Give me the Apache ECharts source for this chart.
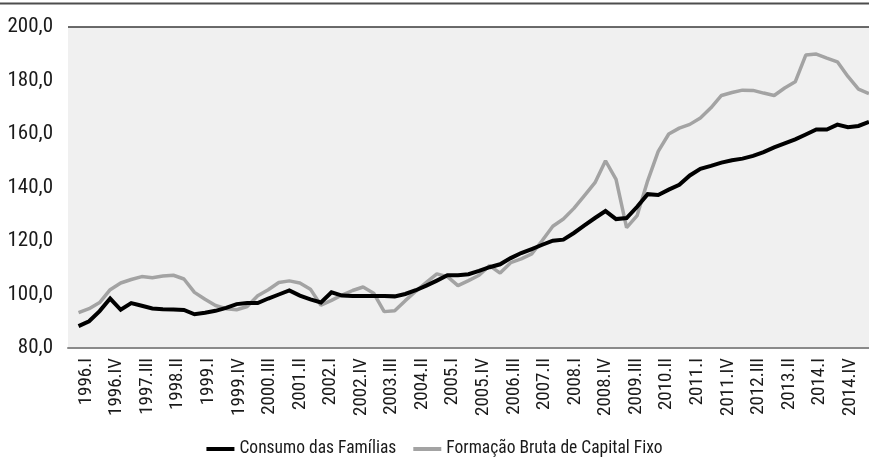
<!DOCTYPE html>
<html>
<head>
<meta charset="utf-8">
<script src="https://cdn.jsdelivr.net/npm/echarts@6/dist/echarts.min.js"></script>
<style>
html,body{margin:0;padding:0;background:#fff;}
#chart{width:869px;height:461px;}
</style>
</head>
<body>
<div id="chart"></div>
<script>
const categories = [
 "1996.I","1996.II","1996.III","1996.IV",
 "1997.I","1997.II","1997.III","1997.IV",
 "1998.I","1998.II","1998.III","1998.IV",
 "1999.I","1999.II","1999.III","1999.IV",
 "2000.I","2000.II","2000.III","2000.IV",
 "2001.I","2001.II","2001.III","2001.IV",
 "2002.I","2002.II","2002.III","2002.IV",
 "2003.I","2003.II","2003.III","2003.IV",
 "2004.I","2004.II","2004.III","2004.IV",
 "2005.I","2005.II","2005.III","2005.IV",
 "2006.I","2006.II","2006.III","2006.IV",
 "2007.I","2007.II","2007.III","2007.IV",
 "2008.I","2008.II","2008.III","2008.IV",
 "2009.I","2009.II","2009.III","2009.IV",
 "2010.I","2010.II","2010.III","2010.IV",
 "2011.I","2011.II","2011.III","2011.IV",
 "2012.I","2012.II","2012.III","2012.IV",
 "2013.I","2013.II","2013.III","2013.IV",
 "2014.I","2014.II","2014.III","2014.IV"
];

const consumoFamilias = [
 88.2, 90.0, 93.8, 98.5, 94.3, 96.8, 95.8, 94.8,
 94.5, 94.4, 94.2, 92.6, 93.2, 93.9, 95.0, 96.4,
 96.8, 96.8, 98.5, 100.0, 101.5, 99.6, 98.2, 97.0,
 100.8, 99.6, 99.4, 99.4, 99.4, 99.4, 99.3, 100.2,
 101.6, 103.3, 105.2, 107.2, 107.2, 107.6, 108.8, 110.2,
 111.3, 113.6, 115.5, 117.0, 118.6, 120.1, 120.5, 123.0,
 125.8, 128.6, 131.2, 128.2, 128.6, 132.8, 137.5, 137.2,
 139.2, 141.0, 144.5, 147.0, 148.1, 149.3, 150.2, 150.8,
 151.8, 153.2, 155.0, 156.5, 158.0, 159.8, 161.7, 161.7,
 163.5, 162.5, 163.0, 164.5
];

const formacaoBrutaCapitalFixo = [
 93.2, 94.7, 97.0, 101.8, 104.3, 105.6, 106.7, 106.3,
 106.9, 107.2, 105.8, 100.8, 98.2, 95.9, 94.7, 94.3,
 95.5, 99.5, 101.8, 104.5, 105.1, 104.3, 102.0, 96.0,
 97.8, 99.8, 101.5, 102.8, 100.5, 93.6, 93.9, 97.7,
 101.2, 104.5, 107.7, 106.7, 103.3, 105.2, 107.2, 110.8,
 108.0, 111.9, 113.3, 115.2, 120.2, 125.5, 128.2, 132.2,
 137.0, 141.8, 150.0, 143.0, 125.0, 129.5, 142.5, 153.5,
 160.0, 162.2, 163.6, 166.0, 169.8, 174.4, 175.5, 176.4,
 176.3, 175.3, 174.4, 177.2, 179.5, 189.5, 189.9, 188.4,
 187.0, 181.5, 176.8, 175.1
];

const seriesNames = ["Consumo das Famílias", "Formação Bruta de Capital Fixo"];
const yTicks = { min: 80, max: 200, interval: 20 };

const FONT = "'Roboto Condensed', 'Noto Sans Condensed', 'Liberation Sans Narrow', 'DejaVu Sans Condensed', sans-serif";

function toPairs(arr){ return arr.map((v,i)=>[i,v]); }

const chart = echarts.init(document.getElementById('chart'), null, {renderer:'canvas'});
chart.setOption({
  animation: false,
  backgroundColor: '#ffffff',
  graphic: [{
    type: 'line',
    shape: {x1: 0, y1: 3.5, x2: 869, y2: 3.5},
    style: {stroke: '#4d4d4d', lineWidth: 2}
  }],
  grid: [
    {left: 68, right: 0, top: 27, bottom: 113, show: true, backgroundColor: '#f0f0f0', borderWidth: 0},
    {left: 86, right: 19, top: 27, bottom: 113, show: false}
  ],
  legend: {
    bottom: 3,
    left: 'center',
    padding: 0,
    icon: 'rect',
    itemWidth: 28,
    itemHeight: 4,
    itemGap: 17,
    textStyle: {fontFamily: FONT, fontSize: 17.5, color: '#1a1a1a'},
    data: seriesNames
  },
  xAxis: [
    {
      type: 'value', gridIndex: 0,
      min: -1, max: categories.length - 1,
      axisLine: {show: true, onZero: false, lineStyle: {color: '#8a8a8a', width: 2}},
      axisTick: {show: false},
      axisLabel: {show: false},
      splitLine: {show: false}
    },
    {
      type: 'category', gridIndex: 1,
      data: categories,
      boundaryGap: false,
      axisLine: {show: false},
      axisTick: {show: false},
      axisLabel: {
        interval: 2, rotate: 90, margin: 10,
        fontFamily: FONT, fontSize: 19, color: '#1a1a1a'
      },
      splitLine: {show: false}
    }
  ],
  yAxis: [
    {
      type: 'value', gridIndex: 0,
      min: yTicks.min, max: yTicks.max, interval: yTicks.interval,
      axisLine: {show: false},
      axisTick: {show: false},
      axisLabel: {
        margin: 15, fontFamily: FONT, fontSize: 21, color: '#1a1a1a',
        formatter: v => v.toFixed(1).replace('.', ',')
      },
      splitLine: {
        show: true,
        lineStyle: {
          width: 1.5,
          color: ['rgba(0,0,0,0)','rgba(0,0,0,0)','rgba(0,0,0,0)','rgba(0,0,0,0)','rgba(0,0,0,0)','rgba(0,0,0,0)','#3a3a3a']
        }
      }
    },
    {
      type: 'value', gridIndex: 1, min: 0, max: 1, show: false
    }
  ],
  series: [
    {
      name: seriesNames[0], type: 'line', xAxisIndex: 0, yAxisIndex: 0,
      data: toPairs(consumoFamilias),
      showSymbol: false, symbol: 'none',
      lineStyle: {color: '#000000', width: 4, join: 'miter'},
      itemStyle: {color: '#000000'},
      z: 3
    },
    {
      name: seriesNames[1], type: 'line', xAxisIndex: 0, yAxisIndex: 0,
      data: toPairs(formacaoBrutaCapitalFixo),
      showSymbol: false, symbol: 'none',
      lineStyle: {color: '#a3a3a3', width: 3.5},
      itemStyle: {color: '#a3a3a3'},
      z: 2
    }
  ]
});
</script>
</body>
</html>
